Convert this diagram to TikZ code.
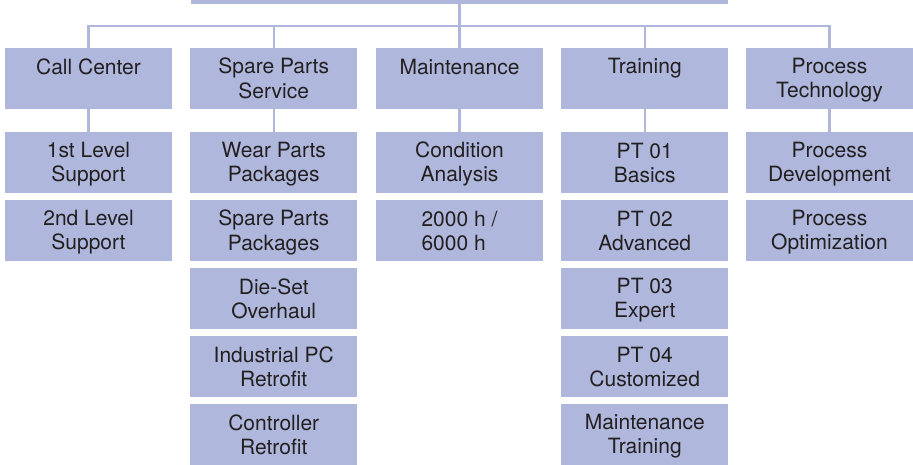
\documentclass[tikz,border=0pt]{standalone}
\usepackage{fontspec}
\setmainfont{TeX Gyre Heros}
\definecolor{boxblue}{RGB}{175,184,220}
\definecolor{txtgray}{RGB}{35,31,32}
% fixed line height, so one and two line boxes start at the same place
\newcommand{\lstrut}{\rule[-4.5pt]{0pt}{24pt}}
\newcommand{\twolines}[2]{\lstrut#1\\\lstrut#2}
\tikzset{
	box/.style={rectangle, fill=boxblue, minimum width=167pt, minimum height=61pt, inner sep=0pt, align=center, text=txtgray, font=\fontsize{21}{24}\selectfont},
	link/.style={draw=boxblue, line width=2.5pt}
}
\begin{document}
\begin{tikzpicture}[x=1pt,y=1pt]
		\useasboundingbox (0,0) rectangle (913,-464);
		\clip (0,0) rectangle (913,-464);
		% top box, cut off at the upper edge
		\node[box, minimum width=537pt, anchor=south] (root) at (459.5,-4) {};
		% departments
		\node[box] (call) at (88.5,-78.5) {\twolines{Call Center}{}};
		\node[box] (spare) at (273.75,-78.5) {\twolines{Spare Parts}{Service}};
		\node[box] (maint) at (459.5,-78.5) {\twolines{Maintenance}{}};
		\node[box] (train) at (644.75,-78.5) {\twolines{Training}{}};
		\node[box] (proc) at (829.5,-78.5) {\twolines{Process}{Technology}};
		% call center
		\node[box] (callA) at (88.5,-162.5) {\twolines{1st Level}{Support}};
		\node[box] (callB) at (88.5,-230.5) {\twolines{2nd Level}{Support}};
		% spare parts
		\node[box] (spareA) at (273.75,-162.5) {\twolines{Wear Parts}{Packages}};
		\node[box] (spareB) at (273.75,-230.5) {\twolines{Spare Parts}{Packages}};
		\node[box] (spareC) at (273.75,-298.5) {\twolines{Die-Set}{Overhaul}};
		\node[box] (spareD) at (273.75,-366.5) {\twolines{Industrial PC}{Retrofit}};
		\node[box] (spareE) at (273.75,-434.5) {\twolines{Controller}{Retrofit}};
		% maintenance
		\node[box] (maintA) at (459.5,-162.5) {\twolines{Condition}{Analysis}};
		\node[box, align=left] (maintB) at (459.5,-230.5) {\twolines{2000 h /}{6000 h}};
		% training
		\node[box] (trainA) at (644.75,-162.5) {\twolines{PT 01}{Basics}};
		\node[box] (trainB) at (644.75,-230.5) {\twolines{PT 02}{Advanced}};
		\node[box] (trainC) at (644.75,-298.5) {\twolines{PT 03}{Expert}};
		\node[box] (trainD) at (644.75,-366.5) {\twolines{PT 04}{Customized}};
		\node[box] (trainE) at (644.75,-434.5) {\twolines{Maintenance}{Training}};
		% process technology
		\node[box] (procA) at (829.5,-162.5) {\twolines{Process}{Development}};
		\node[box] (procB) at (829.5,-230.5) {\twolines{Process}{Optimization}};
		% connectors
		\draw[link] (root.south) -- (maint.north);
		\draw[link] (call.north) -- ++(0,22) -| (proc.north);
		\draw[link] (spare.north) -- ++(0,22);
		\draw[link] (train.north) -- ++(0,22);
		\draw[link] (call.south) -- (callA.north);
		\draw[link] (spare.south) -- (spareA.north);
		\draw[link] (maint.south) -- (maintA.north);
		\draw[link] (train.south) -- (trainA.north);
		\draw[link] (proc.south) -- (procA.north);
	\end{tikzpicture}
\end{document}
